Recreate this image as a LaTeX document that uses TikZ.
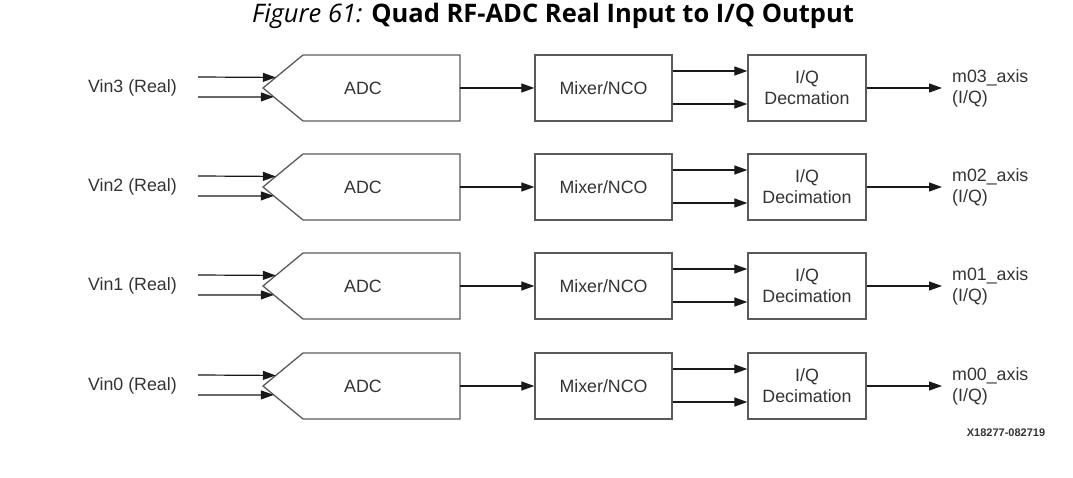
\documentclass[tikz,border=0pt]{standalone}
\usepackage{fontspec}
\setmainfont{Liberation Sans}
\newfontfamily\titlefont{Open Sans}
\usetikzlibrary{arrows.meta,calc}
\definecolor{boxgray}{HTML}{5A5A5A}
\definecolor{txt}{HTML}{333333}
\begin{document}
\begin{tikzpicture}[x=1pt,y=-1pt,
  box/.style={draw=boxgray, line width=1.3pt, minimum height=66pt, inner sep=0pt,
    font=\fontsize{17.8}{21}\selectfont, text=txt, align=center},
  lbl/.style={font=\fontsize{17.8}{21}\selectfont, text=txt, inner sep=0pt},
  arr/.style={draw=black!90, line width=1.2pt, -{Triangle[length=13pt,width=9pt]}},
  adcline/.style={draw=boxgray, line width=1.3pt, line join=miter}]
\useasboundingbox (0,0) rectangle (1073,478);
\node[font=\titlefont\fontsize{25.5}{30}\selectfont, inner sep=0pt] (title) at (553,15.5)
  {\textit{Figure 61:} \textbf{Quad RF-ADC Real Input to I/Q Output}};
\foreach \y/\n/\iq in {88/3/Decmation, 187/2/Decimation, 286/1/Decimation, 386/0/Decimation}{
  % ADC pentagon
  \coordinate (tip\n) at (263,\y);
  \coordinate (tl\n) at (303,\y-33);
  \coordinate (tr\n) at (460,\y-33);
  \coordinate (br\n) at (460,\y+33);
  \coordinate (bl\n) at (303,\y+33);
  \draw[adcline] (tip\n) -- (tl\n) -- (tr\n) -- (br\n) -- (bl\n) -- cycle;
  \node[lbl] (adc\n) at (363,\y) {ADC};
  \coordinate (adcout\n) at (460,\y);
  % inputs
  \coordinate (ina\n) at ($(tip\n)!0.32!(tl\n)$);
  \coordinate (inb\n) at ($(tip\n)!0.27!(bl\n)$);
  \coordinate (sa\n) at (198,\y-11);
  \coordinate (sb\n) at (198,\y+9);
  \draw[arr] (sa\n) -- (ina\n);
  \draw[arr] (sb\n) -- (inb\n);
  \node[lbl, anchor=east] (vin\n) at (177,\y) {Vin\n\ (Real)};
  % mixer
  \node[box, minimum width=137pt] (mix\n) at (603.5,\y) {Mixer/NCO};
  \draw[arr] (adcout\n) -- (mix\n.west);
  % IQ decimation
  \node[box, minimum width=118pt] (iq\n) at (807,\y) {I/Q\\\iq};
  \draw[arr] ($(mix\n.east)+(0,-17)$) -- ($(iq\n.west)+(0,-17)$);
  \draw[arr] ($(mix\n.east)+(0,16)$) -- ($(iq\n.west)+(0,16)$);
  % output
  \coordinate (out\n) at (942,\y);
  \draw[arr] (iq\n.east) -- (out\n);
  \node[lbl, anchor=west, align=left] (lab\n) at (952,\y) {m0\n\_axis\\(I/Q)};
}
\node[font=\fontsize{11}{13}\selectfont\bfseries, text=txt, inner sep=0pt] (code) at (1006,433) {X18277-082719};
\end{tikzpicture}
\end{document}
